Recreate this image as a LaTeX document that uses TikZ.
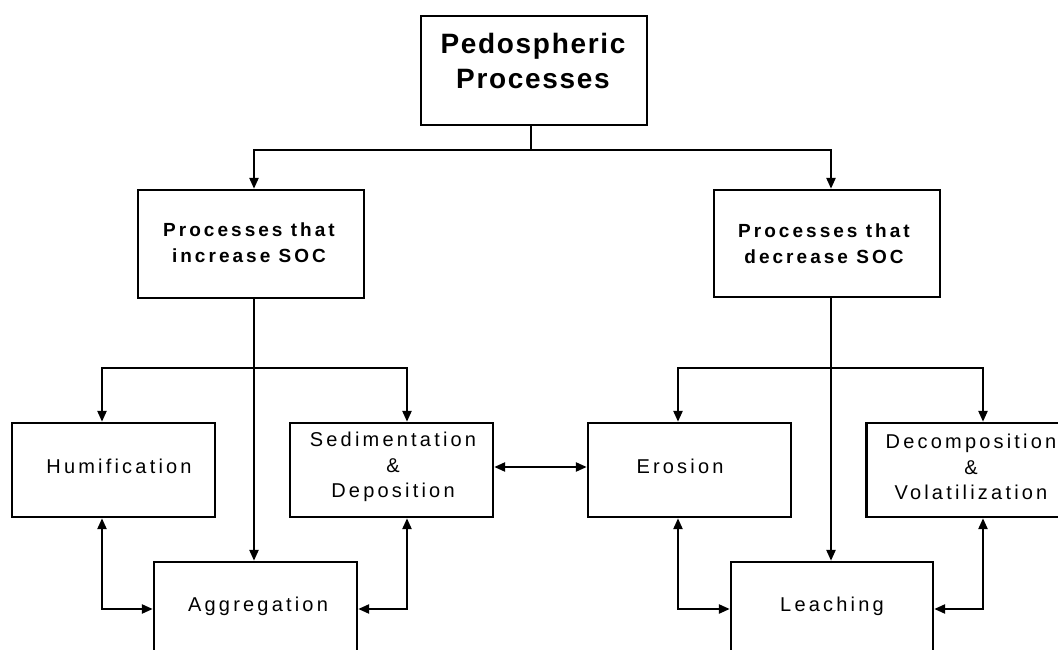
\documentclass[tikz,border=0pt]{standalone}
\usepackage{fontspec}
\setmainfont{Liberation Sans}
\newfontfamily\spaced[LetterSpace=16]{Liberation Sans}
\newfontfamily\titlefont[LetterSpace=6]{Liberation Sans}
\usetikzlibrary{arrows.meta}
\begin{document}
\begin{tikzpicture}[x=1pt,y=-1pt,
  box/.style={draw, line width=2.4pt, rectangle, inner sep=0pt, outer sep=1.2pt},
  txt/.style={align=center, inner sep=0pt, font=\spaced\fontsize{20}{25.5}\selectfont},
  hdr/.style={align=center, inner sep=0pt, font=\spaced\bfseries\fontsize{19}{26}\selectfont},
  ttl/.style={align=center, inner sep=0pt, font=\titlefont\bfseries\fontsize{28}{35}\selectfont},
  conn/.style={line width=2.4pt},
  arr/.style={line width=2.4pt, -{Triangle[length=11pt,width=9pt]}},
  biarr/.style={line width=2.4pt, {Triangle[length=11pt,width=9pt]}-{Triangle[length=11pt,width=9pt]}}]
\useasboundingbox (0,0) rectangle (1058,650);
\clip (0,0) rectangle (1058,650);
% boxes
\node[box, minimum width=226pt, minimum height=109pt] (top) at (534,70.5) {};
\node[box, minimum width=226pt, minimum height=108pt] (inc) at (251,244) {};
\node[box, minimum width=226pt, minimum height=107pt] (dec) at (827,243.5) {};
\node[box, minimum width=203pt, minimum height=94pt] (hum) at (113.5,470) {};
\node[box, minimum width=203pt, minimum height=94pt] (sed) at (391.5,470) {};
\node[box, minimum width=203pt, minimum height=94pt] (ero) at (689.5,470) {};
\node[box, minimum width=203pt, minimum height=94pt] (dcv) at (968,470) {};
\node[box, minimum width=203pt, minimum height=100pt] (agg) at (255.5,612) {};
\node[box, minimum width=202pt, minimum height=100pt] (lea) at (832,612) {};
% texts
\node[ttl] (topt) at (533,61) {Pedospheric\\Processes};
\node[hdr] (inct) at (249,243) {Processes that\\increase SOC};
\node[hdr] (dect) at (824,244) {Processes that\\decrease SOC};
\node[txt] (humt) at (119,466) {Humification};
\node[txt] (sedt) at (393,467) {Sedimentation\\\&\\Deposition};
\node[txt] (erot) at (680,466) {Erosion};
\node[txt] (dcvt) at (971,467) {Decomposition\\\&\\Volatilization};
\node[txt] (aggt) at (258,606) {Aggregation};
\node[txt] (leat) at (832,606) {Leaching};
% connectors
\coordinate (j1) at (531,150);
\draw[conn] ([xshift=-3pt]top.south) -- (j1);
\draw[arr] (j1) -| ([xshift=3pt]inc.north);
\draw[arr] (j1) -| ([xshift=4pt]dec.north);
\coordinate (j2) at (254,368);
\draw[arr] ([xshift=3pt]inc.south) -- ([xshift=-1.5pt]agg.north);
\draw[arr] (j2) -| ([xshift=-11.5pt]hum.north);
\draw[arr] (j2) -| ([xshift=15.5pt]sed.north);
\coordinate (j3) at (831,368);
\draw[arr] ([xshift=4pt]dec.south) -- ([xshift=-1pt]lea.north);
\draw[arr] (j3) -| ([xshift=-11.5pt]ero.north);
\draw[arr] (j3) -| ([xshift=15pt]dcv.north);
\draw[biarr] ([yshift=3pt]sed.east) -- ([yshift=3pt]ero.west);
\draw[biarr] ([xshift=-11.5pt]hum.south) |- ([yshift=3pt]agg.west);
\draw[biarr] ([xshift=15.5pt]sed.south) |- ([yshift=3pt]agg.east);
\draw[biarr] ([xshift=-11.5pt]ero.south) |- ([yshift=3pt]lea.west);
\draw[biarr] ([xshift=15pt]dcv.south) |- ([yshift=3pt]lea.east);
\end{tikzpicture}
\end{document}
